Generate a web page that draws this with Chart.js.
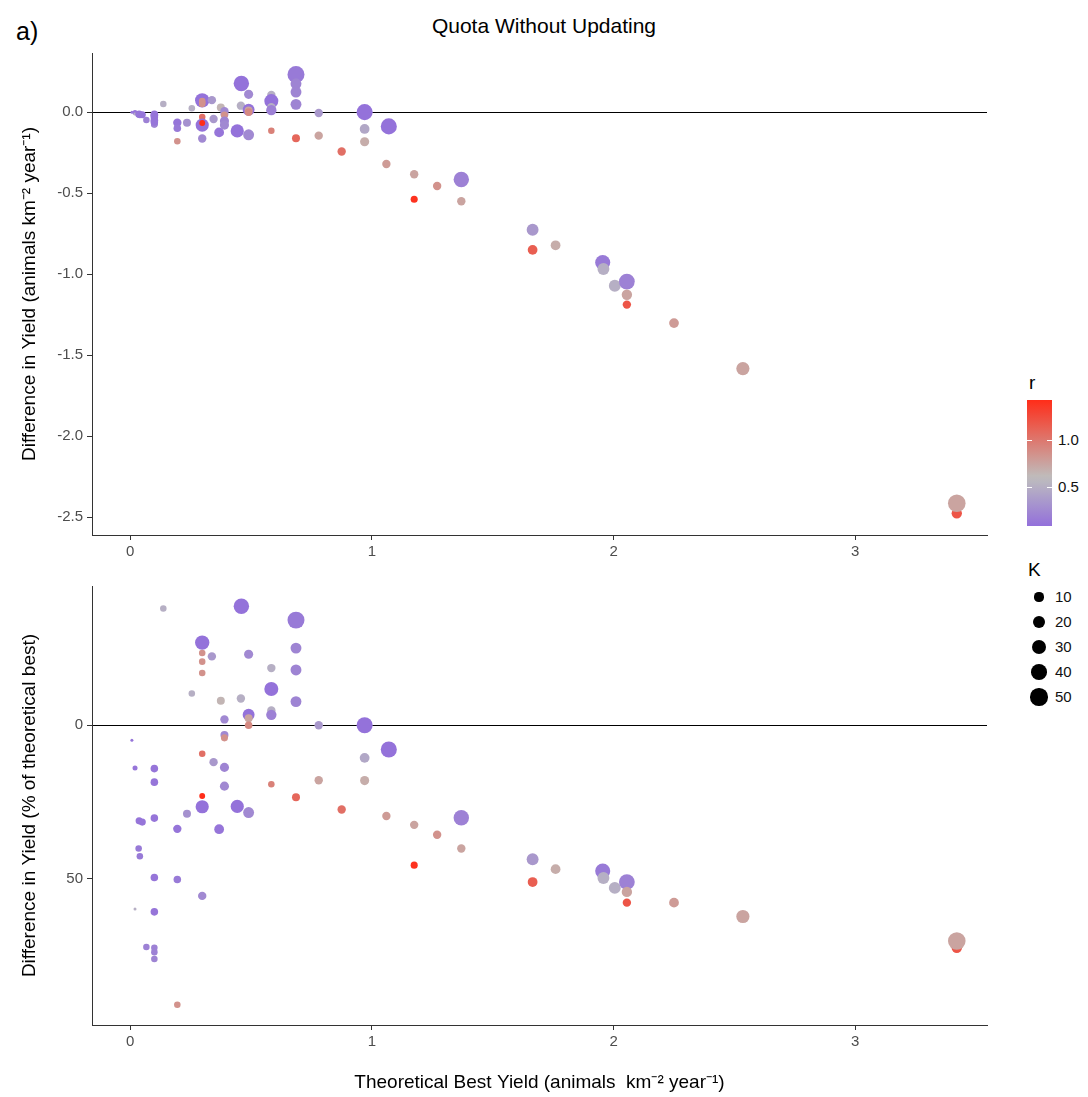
<!DOCTYPE html>
<html>
<head>
<meta charset="utf-8">
<script src="https://cdn.jsdelivr.net/npm/chart.js@4.4.0/dist/chart.umd.min.js"></script>
<style>
  body { margin: 0; background: #fff; font-family: "Liberation Sans", Arial, sans-serif; }
  #pagina { position: relative; width: 1088px; height: 1097px; overflow: hidden; }
  #titulo { position: absolute; top: 14px; left: 0; width: 1088px; text-align: center; font-size: 21px; color: #000; }
  #painel { position: absolute; top: 17px; left: 16px; font-size: 25px; color: #000; }
  canvas { position: absolute; left: 0; }
  #cTopo { top: 40px; }
  #cBase { top: 573px; }
  .leg { position: absolute; color: #111; font-size: 15px; }
  .legTit { position: absolute; color: #000; font-size: 19px; }
  #barra { position: absolute; left: 1027px; top: 400px; width: 25px; height: 126px; }
  .marca { position: absolute; height: 1px; width: 5px; background: #fff; }
  .ponto { position: absolute; background: #000; border-radius: 50%; }
</style>
</head>
<body>
<div id="pagina">
  <div id="titulo">Quota Without Updating</div>
  <div id="painel">a)</div>
  <canvas id="cTopo" width="1000" height="540"></canvas>
  <canvas id="cBase" width="1000" height="524"></canvas>
  <div class="legTit" style="left:1029px; top:372px;">r</div>
  <div id="barra"></div>
  <div class="legTit" style="left:1028px; top:559px;">K</div>
</div>
<script>
// melhor rendimento teórico (eixo x, partilhado pelos dois painéis)
const bestYield = [0.007, 0.020, 0.020, 0.035, 0.040, 0.037, 0.050, 0.067, 0.100, 0.100,
  0.100, 0.100, 0.100, 0.100, 0.100, 0.100, 0.137, 0.195, 0.195, 0.195,
  0.235, 0.255, 0.298, 0.298, 0.298, 0.298, 0.298, 0.298, 0.298, 0.298,
  0.338, 0.345, 0.375, 0.368, 0.390, 0.390, 0.390, 0.390, 0.390, 0.443,
  0.460, 0.458, 0.490, 0.490, 0.490, 0.490, 0.490, 0.584, 0.584, 0.584,
  0.584, 0.584, 0.686, 0.686, 0.686, 0.686, 0.686, 0.780, 0.780, 0.875,
  0.970, 0.970, 0.970, 1.070, 1.060, 1.175, 1.175, 1.270, 1.370, 1.370,
  1.665, 1.665, 1.760, 1.955, 1.958, 2.005, 2.055, 2.055, 2.055, 2.250,
  2.535, 3.420, 3.420];

// diferença absoluta (animais km-2 ano-1)
const diffYield = [0.000, -0.003, -0.012, -0.014, -0.017, -0.012, -0.016, -0.048, -0.072, -0.074,
  -0.076, -0.030, -0.014, -0.019, -0.050, -0.061, 0.050, -0.065, -0.100, -0.180,
  -0.066, 0.024, 0.073, 0.068, 0.060, 0.050, -0.030, -0.080, -0.067, -0.163,
  0.074, -0.042, 0.028, -0.125, 0.006, -0.012, -0.018, -0.055, -0.080, -0.116,
  0.177, 0.040, 0.110, 0.015, 0.010, 0.000, -0.140, 0.106, 0.068, 0.030,
  0.012, -0.115, 0.232, 0.175, 0.124, 0.048, -0.161, -0.005, -0.145, -0.243,
  0.000, -0.104, -0.183, -0.088, -0.320, -0.383, -0.538, -0.456, -0.416, -0.550,
  -0.726, -0.850, -0.822, -0.928, -0.968, -1.072, -1.046, -1.127, -1.188, -1.302,
  -1.583, -2.476, -2.414];

// diferença em % do melhor teórico
const diffPct = [-4.9, -13.9, -59.8, -40.1, -42.6, -31.1, -31.5, -72.1, -72.4, -73.8,
  -76.0, -30.2, -14.1, -18.5, -49.5, -60.7, 38.0, -33.7, -50.2, -90.9,
  -28.8, 10.3, 26.9, 23.5, 20.7, 17.0, -9.3, -26.5, -23.0, -55.5,
  22.4, -12.0, 8.0, -33.8, 1.9, -3.2, -4.1, -13.7, -19.8, -26.4,
  38.7, 8.7, 23.1, 3.4, 2.3, 0.0, -28.4, 18.6, 11.8, 4.8,
  3.4, -19.2, 34.2, 25.1, 18.0, 7.7, -23.4, 0.0, -17.9, -27.4,
  0.0, -10.6, -18.0, -7.9, -29.5, -32.4, -45.5, -35.6, -30.1, -40.1,
  -43.6, -51.0, -46.8, -47.4, -49.7, -52.9, -51.0, -54.2, -57.7, -57.7,
  -62.2, -72.4, -70.2];

// taxa de crescimento r (cor)
const taxaR = [0.12, 0.12, 0.50, 0.15, 0.15, 0.12, 0.12, 0.20, 0.20, 0.20,
  0.22, 0.12, 0.12, 0.12, 0.12, 0.12, 0.50, 0.12, 0.15, 0.85,
  0.30, 0.50, 0.10, 0.85, 0.85, 0.85, 1.05, 0.10, 1.45, 0.25,
  0.35, 0.35, 0.65, 0.12, 0.25, 0.25, 0.85, 0.22, 0.25, 0.10,
  0.10, 0.50, 0.25, 0.10, 0.75, 0.90, 0.25, 0.50, 0.10, 0.50,
  0.20, 0.95, 0.15, 0.22, 0.22, 0.22, 1.10, 0.35, 0.75, 1.05,
  0.10, 0.45, 0.70, 0.10, 0.80, 0.75, 1.40, 0.85, 0.20, 0.75,
  0.35, 1.15, 0.70, 0.15, 0.50, 0.50, 0.20, 0.75, 1.20, 0.80,
  0.75, 1.20, 0.75];

// capacidade de suporte K (tamanho)
const capK = [1, 2, 1, 4, 4, 5, 5, 4, 4, 4,
  4, 6, 6, 6, 6, 6, 4, 8, 6, 4,
  7, 4, 32, 4, 4, 4, 4, 26, 3, 8,
  8, 8, 7, 12, 8, 7, 5, 10, 10, 26,
  38, 8, 10, 20, 7, 6, 16, 8, 30, 8,
  14, 4, 48, 16, 16, 16, 7, 8, 8, 8,
  42, 12, 10, 42, 8, 8, 5, 8, 38, 8,
  20, 12, 12, 36, 20, 20, 40, 14, 8, 12,
  26, 14, 52];

const xTicks = [0, 1, 2, 3];
const yTicksTopo = [0, -0.5, -1.0, -1.5, -2.0, -2.5];
const yTicksBase = [0, -50];
const legendaR = [1.0, 0.5];
const legendaK = [10, 20, 30, 40, 50];

// escala de cor: roxo -> cinzento -> vermelho
const rMin = 0.085, rMeio = 0.6, rMax = 1.43;
const corBaixa = [147, 112, 219], corMeio = [190, 190, 190], corAlta = [255, 45, 25];

function mistura(a, b, t) {
  return a.map((v, i) => Math.round(v + (b[i] - v) * t));
}

function corDe(r) {
  let c;
  if (r <= rMeio) c = mistura(corBaixa, corMeio, Math.max(0, (r - rMin) / (rMeio - rMin)));
  else c = mistura(corMeio, corAlta, Math.min(1, (r - rMeio) / (rMax - rMeio)));
  return `rgb(${c[0]},${c[1]},${c[2]})`;
}

// diâmetro do ponto em px a partir de K
function diametroDe(k) {
  return 3 + 15 * Math.sqrt(Math.max(0, k - 1) / 54);
}

const cores = taxaR.map(corDe);
const raios = capK.map(k => diametroDe(k) / 2);

function opcoesPainel(yMin, yMax, yTicks, yTitulo, fmtY, alturaX, tituloX) {
  const fonteTick = { family: "'Liberation Sans', Arial, sans-serif", size: 15 };
  const fonteTit = { family: "'Liberation Sans', Arial, sans-serif", size: 19 };
  return {
    responsive: false,
    animation: false,
    layout: { padding: { left: 0, top: 10, right: 13, bottom: 0 } },
    plugins: { legend: { display: false }, tooltip: { enabled: false } },
    scales: {
      x: {
        type: "linear",
        min: -0.158,
        max: 3.545,
        afterBuildTicks: s => { s.ticks = xTicks.map(v => ({ value: v })); },
        afterFit: s => { s.height = alturaX; },
        border: { display: true, color: "#333", width: 1 },
        grid: { drawOnChartArea: false, tickLength: 5, tickColor: "#333" },
        ticks: { color: "#4d4d4d", font: fonteTick, padding: 3, maxRotation: 0, callback: v => String(v) },
        title: {
          display: !!tituloX,
          text: tituloX || "",
          color: "#000",
          font: fonteTit,
          padding: { top: 0, bottom: 3 }
        }
      },
      y: {
        type: "linear",
        min: yMin,
        max: yMax,
        afterBuildTicks: s => { s.ticks = yTicks.map(v => ({ value: v })); },
        afterFit: s => { s.width = 92; },
        border: { display: true, color: "#333", width: 1 },
        grid: {
          drawOnChartArea: true,
          tickLength: 5,
          tickColor: "#333",
          color: c => (c.tick && c.tick.value === 0 ? "#000" : "rgba(0,0,0,0)"),
          lineWidth: 1
        },
        ticks: { color: "#4d4d4d", font: fonteTick, padding: 4, callback: fmtY },
        title: {
          display: true,
          text: yTitulo,
          color: "#000",
          font: fonteTit,
          padding: { top: 18, bottom: 0 }
        }
      }
    }
  };
}

function pontos(yVals) {
  return bestYield.map((x, i) => ({ x: x, y: yVals[i] }));
}

function conjunto(yVals) {
  return {
    data: pontos(yVals),
    pointRadius: raios,
    pointHoverRadius: raios,
    pointBackgroundColor: cores,
    pointBorderWidth: 0,
    pointStyle: "circle",
    showLine: false
  };
}

new Chart(document.getElementById("cTopo").getContext("2d"), {
  type: "scatter",
  data: { datasets: [conjunto(diffYield)] },
  options: opcoesPainel(-2.61, 0.365, yTicksTopo,
    "Difference in Yield (animals km\u207B\u00B2 year\u207B\u00B9)",
    v => v.toFixed(1), 45, null)
});

new Chart(document.getElementById("cBase").getContext("2d"), {
  type: "scatter",
  data: { datasets: [conjunto(diffPct)] },
  options: opcoesPainel(-97.5, 45.3, yTicksBase,
    "Difference in Yield (% of theoretical best)",
    v => String(Math.abs(v)), 72,
    "Theoretical Best Yield (animals  km\u207B\u00B2 year\u207B\u00B9)")
});

// legenda de cor (r)
const pagina = document.getElementById("pagina");
const barra = document.getElementById("barra");
const paragens = [];
for (let i = 0; i <= 20; i++) {
  const r = rMax - (rMax - rMin) * i / 20;
  paragens.push(`${corDe(r)} ${(i * 5)}%`);
}
barra.style.background = `linear-gradient(to bottom, ${paragens.join(", ")})`;

legendaR.forEach(r => {
  const y = 400 + (rMax - r) / (rMax - rMin) * 126;
  [1027, 1047].forEach(x => {
    const m = document.createElement("div");
    m.className = "marca";
    m.style.left = x + "px";
    m.style.top = Math.round(y) + "px";
    pagina.appendChild(m);
  });
  const t = document.createElement("div");
  t.className = "leg";
  t.style.left = "1058px";
  t.style.top = Math.round(y - 9) + "px";
  t.textContent = r.toFixed(1);
  pagina.appendChild(t);
});

// legenda de tamanho (K)
legendaK.forEach((k, i) => {
  const y = 597 + i * 25;
  const d = diametroDe(k);
  const p = document.createElement("div");
  p.className = "ponto";
  p.style.width = d + "px";
  p.style.height = d + "px";
  p.style.left = (1039 - d / 2) + "px";
  p.style.top = (y - d / 2) + "px";
  pagina.appendChild(p);
  const t = document.createElement("div");
  t.className = "leg";
  t.style.left = "1055px";
  t.style.top = (y - 9) + "px";
  t.textContent = k;
  pagina.appendChild(t);
});
</script>
</body>
</html>
